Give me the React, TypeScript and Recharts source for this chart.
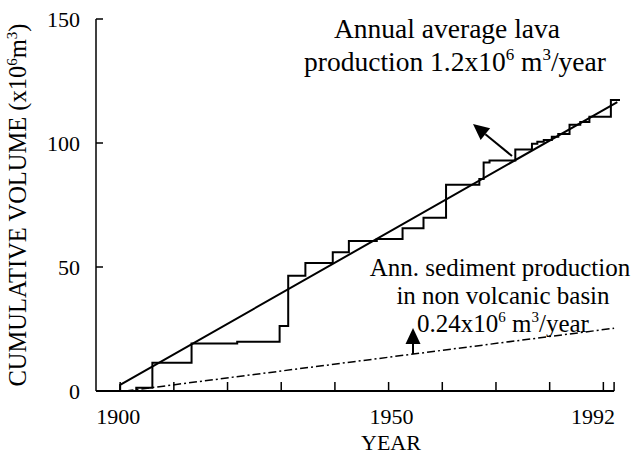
import React from 'react';
import { LineChart, Line, XAxis, YAxis, ReferenceLine } from 'recharts';

// cumulative lava volume (step record)
const stepYears = [
  1900, 1903, 1906, 1913.3, 1921.8, 1929.7, 1931.3, 1934.5, 1939.6, 1942.6,
  1947.8, 1952.6, 1956.5, 1960.7, 1966.9, 1967.7, 1968.8, 1973.6, 1976.7,
  1977.7, 1978.9, 1980.4, 1981.6, 1983.7, 1985.7, 1987.4, 1991.4, 1993.1,
];
const stepVolumes = [
  0, 1.3, 11.4, 19.2, 19.9, 26.2, 46.5, 51.6, 55.9, 60.5,
  61.3, 65.6, 69.9, 83.2, 85.5, 92.1, 92.9, 97.4, 99.7,
  100.5, 101.2, 102.5, 103.6, 107.4, 108.5, 110.6, 117.3, 117.3,
];

// annual average lava production trend
const lavaTrendYears = [1900, 1900, 1992.6];
const lavaTrendVolumes = [0, 2.5, 116.5];

// sediment production in non volcanic basin
const sedimentYears = [1901, 1992];
const sedimentVolumes = [0, 25.3];

const xTicks = [1900, 1910, 1920, 1930, 1940, 1950, 1960, 1970, 1980, 1990, 1992];
const xLabels = [1900, 1950, 1992];
const yTicks = [0, 50, 100, 150];

const toRows = (xs: number[], ys: number[]) => xs.map((year, i) => ({ year, volume: ys[i] }));

const FONT = '"Liberation Serif", "Times New Roman", serif';

// small label nudges as in the printed figure
const xLabelShift: Record<number, number> = { 1900: -2, 1950: 3, 1992: 1 };

const XTick = (props: any) => {
  const { x, y, payload } = props;
  const v = payload.value;
  const last = v === 1992;
  return (
    <g>
      <line x1={x} y1={y} x2={x} y2={y - 9} stroke="#000" strokeWidth={1.5} />
      {xLabels.includes(v) && (
        <text
          x={x + (xLabelShift[v] || 0)}
          y={y + 33}
          textAnchor={last ? 'end' : 'middle'}
          fontFamily={FONT}
          fontSize={22}
          fill="#000"
        >
          {v}
        </text>
      )}
    </g>
  );
};

const YTick = (props: any) => {
  const { x, y, payload } = props;
  return (
    <g>
      <line x1={x} y1={y} x2={x + 7} y2={y} stroke="#000" strokeWidth={1.5} />
      <text x={x - 16} y={y + 8} textAnchor="end" fontFamily={FONT} fontSize={22} fill="#000">
        {payload.value}
      </text>
    </g>
  );
};

const Arrow = ({ fx, fy, tx, ty }: { fx: number; fy: number; tx: number; ty: number }) => {
  const dx = tx - fx;
  const dy = ty - fy;
  const len = Math.sqrt(dx * dx + dy * dy);
  const ux = dx / len;
  const uy = dy / len;
  const hl = 16;
  const hw = 7.5;
  const bx = tx - ux * hl;
  const by = ty - uy * hl;
  const pts = `${tx},${ty} ${bx - uy * hw},${by + ux * hw} ${bx + uy * hw},${by - ux * hw}`;
  return (
    <g>
      <line x1={fx} y1={fy} x2={bx} y2={by} stroke="#000" strokeWidth={2} />
      <polygon points={pts} fill="#000" />
    </g>
  );
};

const Sup = ({ children, size = 15, rise = 10 }: { children: React.ReactNode; size?: number; rise?: number }) => (
  <tspan dy={-rise} fontSize={size}>
    {children}
  </tspan>
);

export default function App() {
  return (
    <div style={{ position: 'absolute', left: 0, top: 0, width: 640, height: 457, background: '#fff' }}>
      <LineChart width={640} height={457} margin={{ top: 19, right: 20, bottom: 36, left: 36 }}>
        <XAxis
          type="number"
          dataKey="year"
          domain={[1895.5, 1993.1]}
          ticks={xTicks}
          tick={<XTick />}
          tickSize={0}
          tickMargin={0}
          axisLine={false}
          height={30}
          interval={0}
        />
        <YAxis
          type="number"
          domain={[0, 150]}
          ticks={yTicks}
          tick={<YTick />}
          tickSize={0}
          tickMargin={0}
          width={60}
          interval={0}
          axisLine={{ stroke: '#000', strokeWidth: 1.5 }}
        />
        <ReferenceLine
          segment={[
            { x: 1895.5, y: 0 },
            { x: 1992, y: 0 },
          ]}
          stroke="#000"
          strokeWidth={2}
          ifOverflow="visible"
        />
        <Line
          data={toRows(sedimentYears, sedimentVolumes)}
          dataKey="volume"
          type="linear"
          stroke="#000"
          strokeWidth={1.5}
          strokeDasharray="8 3 2 3"
          dot={false}
          isAnimationActive={false}
        />
        <Line
          data={toRows(lavaTrendYears, lavaTrendVolumes)}
          dataKey="volume"
          type="linear"
          stroke="#000"
          strokeWidth={2}
          dot={false}
          isAnimationActive={false}
        />
        <Line
          data={toRows(stepYears, stepVolumes)}
          dataKey="volume"
          type="stepAfter"
          stroke="#000"
          strokeWidth={2}
          dot={false}
          isAnimationActive={false}
        />
      </LineChart>
      <svg
        width={640}
        height={457}
        style={{ position: 'absolute', left: 0, top: 0, pointerEvents: 'none' }}
        fontFamily={FONT}
        fill="#000"
      >
        <text x={26} y={205} transform="rotate(-90, 26, 205)" textAnchor="middle" fontSize={24.5}>
          CUMULATIVE VOLUME (x10<Sup size={15} rise={9}>6</Sup>
          <tspan dy={9}>m</tspan>
          <Sup size={15} rise={9}>3</Sup>
          <tspan dy={9}>)</tspan>
        </text>
        <text x={391} y={450} textAnchor="middle" fontSize={22}>YEAR</text>

        <text x={447} y={38} textAnchor="middle" fontSize={27.5}>Annual average lava</text>
        <text x={455} y={71} textAnchor="middle" fontSize={27.5}>
          production 1.2x10<Sup size={17} rise={11}>6</Sup>
          <tspan dy={11}> m</tspan>
          <Sup size={17} rise={11}>3</Sup>
          <tspan dy={11}>/year</tspan>
        </text>
        <Arrow fx={512} fy={156} tx={473} ty={124} />

        <text x={500} y={276} textAnchor="middle" fontSize={25}>Ann. sediment production</text>
        <text x={503} y={304} textAnchor="middle" fontSize={25}>in non volcanic basin</text>
        <text x={503} y={332} textAnchor="middle" fontSize={25}>
          0.24x10<Sup>6</Sup>
          <tspan dy={10}> m</tspan>
          <Sup>3</Sup>
          <tspan dy={10}>/year</tspan>
        </text>
        <Arrow fx={413} fy={354} tx={413} ty={328} />
      </svg>
    </div>
  );
}
